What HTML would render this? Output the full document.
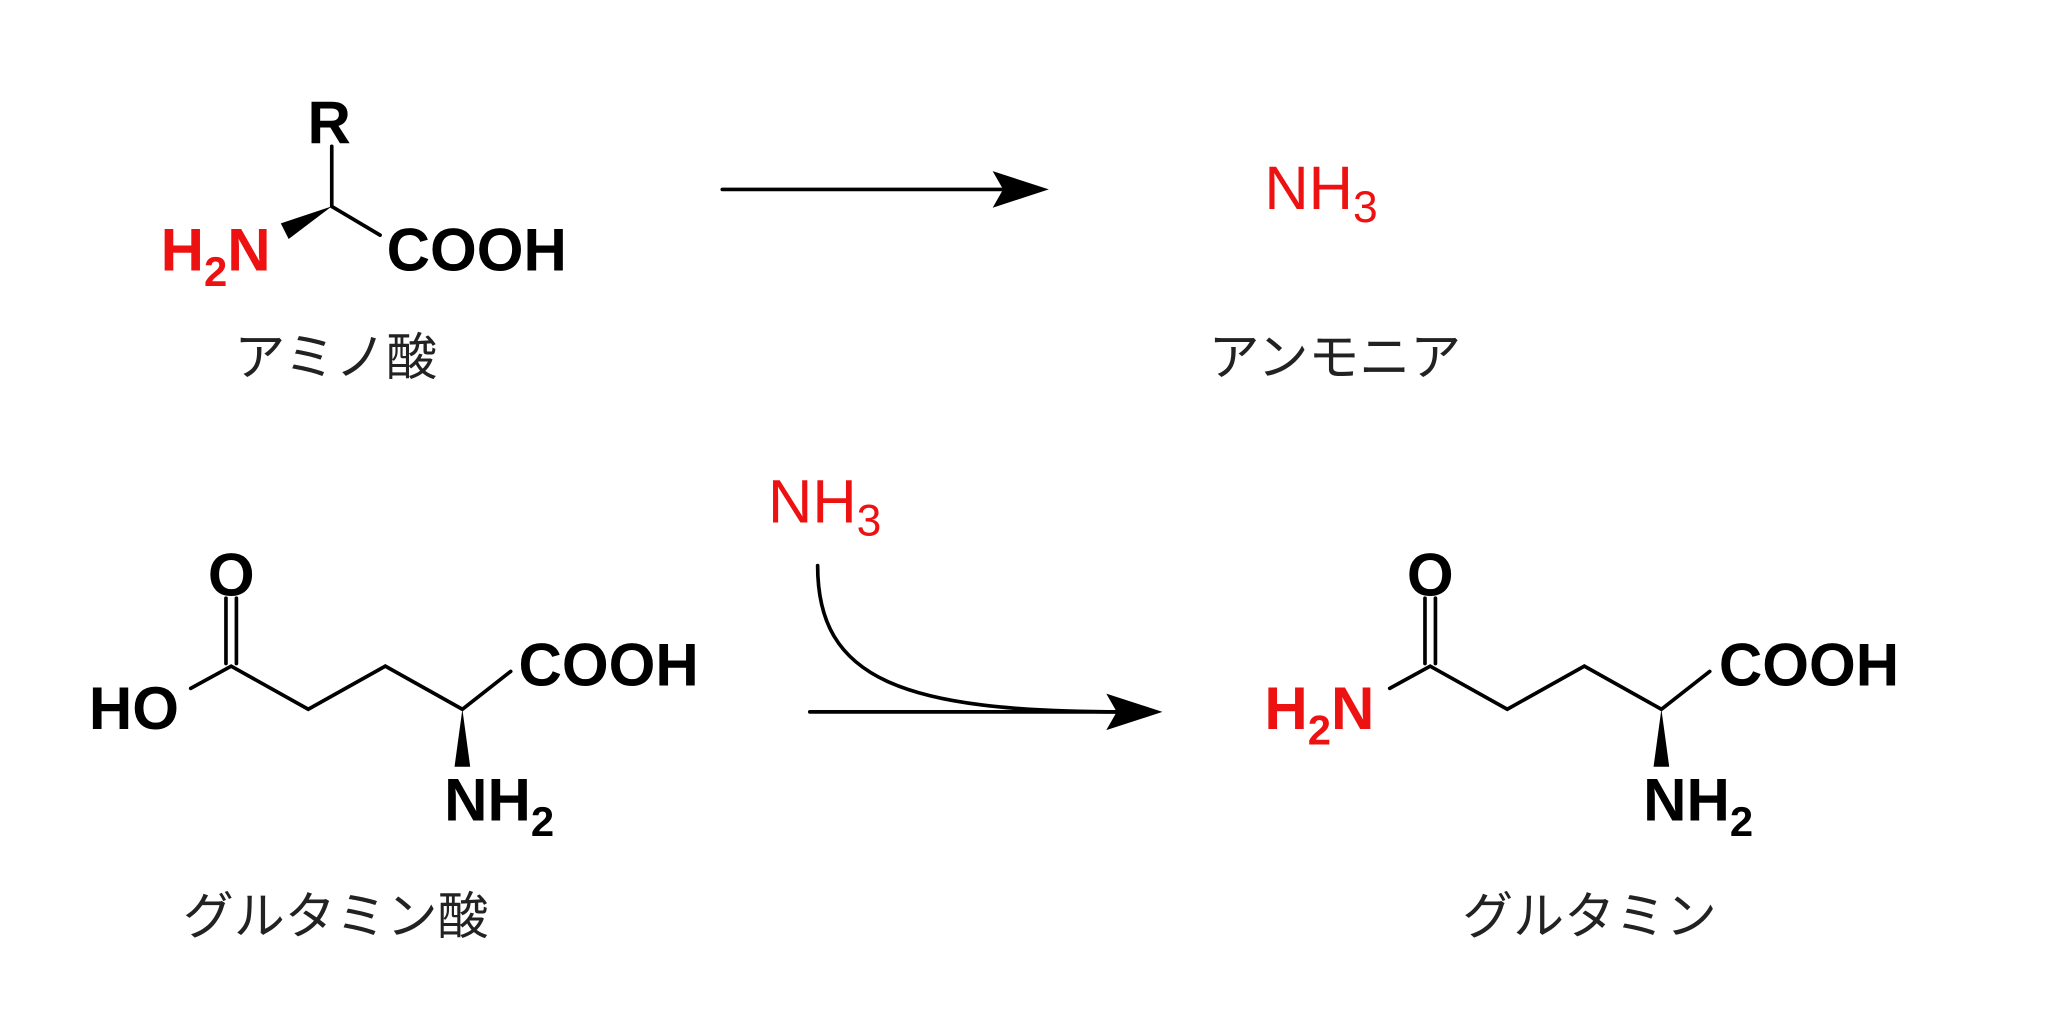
<!DOCTYPE html>
<html><head><meta charset="utf-8"><style>
html,body{margin:0;padding:0;background:#fff;width:2048px;height:1011px;overflow:hidden}
svg{display:block}
.b{font-family:"Liberation Sans",Arial,sans-serif;font-weight:bold;font-size:46px}
.r{font-family:"Liberation Sans",Arial,sans-serif;font-size:47px;fill:#ee1111}
.j{font-family:"Liberation Sans","Noto Sans CJK JP",sans-serif;font-size:39px;fill:#222}
</style></head><body>
<svg width="2048" height="1011" viewBox="0 0 1568 774" xmlns="http://www.w3.org/2000/svg">
<g stroke="#000" stroke-width="2.8" fill="none" stroke-linecap="round">
<line x1="254" y1="112" x2="254" y2="158"/>
<line x1="254" y1="158" x2="291" y2="180"/>
<line x1="553" y1="145" x2="770" y2="145"/>
<line x1="173" y1="458" x2="173" y2="508"/>
<line x1="181" y1="458" x2="181" y2="508"/>
<polyline points="146,527 177,510 236,543 295,510 354,543 391,514"/>
<line x1="620" y1="545" x2="860" y2="545"/>
<path d="M626,433 C626,520 690,545 860,545"/>
<line x1="1091" y1="458" x2="1091" y2="508"/>
<line x1="1099" y1="458" x2="1099" y2="508"/>
<polyline points="1064,527 1095,510 1154,543 1213,510 1272,543 1309,514"/>
</g>
<g fill="#000">
<polygon points="254,158 215,171 221,183"/>
<polygon points="803,145 760,131 768,145 760,159"/>
<polygon points="890,545 847,531 855,545 847,559"/>
<polygon points="354,543 348,587 360,587"/>
<polygon points="1272,543 1266,587 1278,587"/>
</g>
<text class="b" x="252" y="110" text-anchor="middle">R</text>
<text class="b" x="123" y="207" fill="#ee1111">H<tspan font-size="32" dy="12">2</tspan><tspan dy="-12">N</tspan></text>
<text class="b" x="296" y="207">COOH</text>
<text class="j" x="257" y="287" text-anchor="middle">アミノ酸</text>
<text class="r" x="968" y="160">NH<tspan font-size="34" dy="10">3</tspan></text>
<text class="j" x="1022" y="287" text-anchor="middle">アンモニア</text>

<text class="b" x="177" y="456" text-anchor="middle">O</text>
<text class="b" x="68" y="558">HO</text>
<text class="b" x="397" y="525">COOH</text>
<text class="b" x="340" y="628">NH<tspan font-size="32" dy="12">2</tspan></text>
<text class="j" x="257" y="715" text-anchor="middle">グルタミン酸</text>

<text class="r" x="588" y="400">NH<tspan font-size="34" dy="10">3</tspan></text>

<text class="b" x="1095" y="456" text-anchor="middle">O</text>
<text class="b" x="968" y="558" fill="#ee1111">H<tspan font-size="32" dy="12">2</tspan><tspan dy="-12">N</tspan></text>
<text class="b" x="1316" y="525">COOH</text>
<text class="b" x="1258" y="628">NH<tspan font-size="32" dy="12">2</tspan></text>
<text class="j" x="1217" y="715" text-anchor="middle">グルタミン</text>
</svg>
</body></html>
